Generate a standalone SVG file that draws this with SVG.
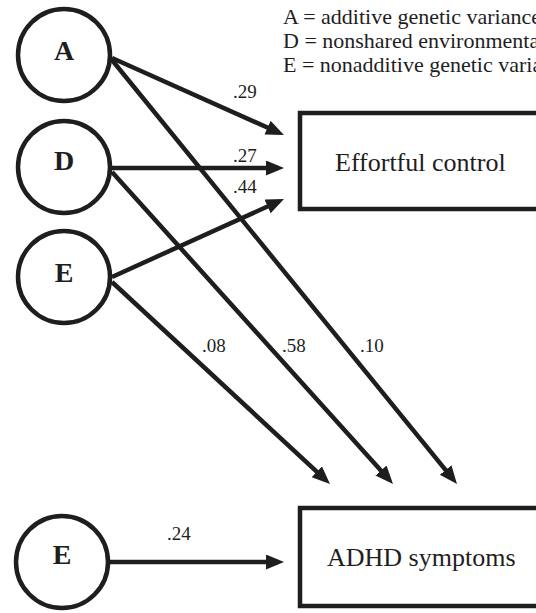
<svg xmlns="http://www.w3.org/2000/svg" width="536" height="613" viewBox="0 0 536 613">
<style>
.c{fill:#fff;stroke:#1e1e1e;stroke-width:4.5}
.b{fill:#fff;stroke:#1e1e1e;stroke-width:4.5}
.l{font-family:"Liberation Serif","Times New Roman",serif;font-weight:bold;font-size:28px;fill:#1e1e1e;text-anchor:middle}
.t{font-family:"Liberation Serif","Times New Roman",serif;font-size:26px;fill:#1e1e1e}
.n{font-family:"Liberation Serif","Times New Roman",serif;font-size:19px;fill:#1e1e1e}
.g{font-family:"Liberation Serif","Times New Roman",serif;font-size:22px;fill:#1e1e1e}
.e{stroke:#1e1e1e;stroke-width:4.5;fill:none;marker-end:url(#ah)}
</style>
<defs>
<marker id="ah" markerUnits="userSpaceOnUse" markerWidth="20" markerHeight="16" refX="12" refY="7.5" orient="auto">
<path d="M0,0 L18,7.5 L0,15 z" fill="#1e1e1e"/>
</marker>
</defs>
<g id="legend">
<text class="g" x="283" y="24">A = additive genetic variance</text>
<text class="g" x="283" y="48">D = nonshared environmental</text>
<text class="g" x="283" y="72">E = nonadditive genetic variance</text>
</g>
<g id="connectors">
<path class="e" d="M112,58 L278.5,132.5"/>
<path class="e" d="M112,168 L278,168"/>
<path class="e" d="M112,277 L278.5,201.5"/>
<path class="e" d="M112,60 L453.2,479.3"/>
<path class="e" d="M112,172 L389,479.5"/>
<path class="e" d="M112,282 L325.6,479.9"/>
<path class="e" d="M110,562 L278,562"/>
<text class="n" x="233" y="98">.29</text>
<text class="n" x="233" y="162">.27</text>
<text class="n" x="233" y="193">.44</text>
<text class="n" x="202" y="352">.08</text>
<text class="n" x="282" y="352">.58</text>
<text class="n" x="360" y="352">.10</text>
<text class="n" x="167" y="540">.24</text>
</g>
<g id="nodeA"><circle class="c" cx="64" cy="55" r="46"/><text class="l" x="64" y="60">A</text></g>
<g id="nodeD"><circle class="c" cx="64" cy="167" r="46"/><text class="l" x="64" y="170">D</text></g>
<g id="nodeE"><circle class="c" cx="64" cy="277" r="46"/><text class="l" x="64" y="282">E</text></g>
<g id="nodeE2"><circle class="c" cx="62" cy="562" r="46"/><text class="l" x="62" y="564">E</text></g>
<g id="effortful"><rect class="b" x="300" y="113" width="260" height="96"/><text class="t" x="335" y="171">Effortful control</text></g>
<g id="adhd"><rect class="b" x="300" y="508" width="260" height="98"/><text class="t" x="327" y="566">ADHD symptoms</text></g>
</svg>
